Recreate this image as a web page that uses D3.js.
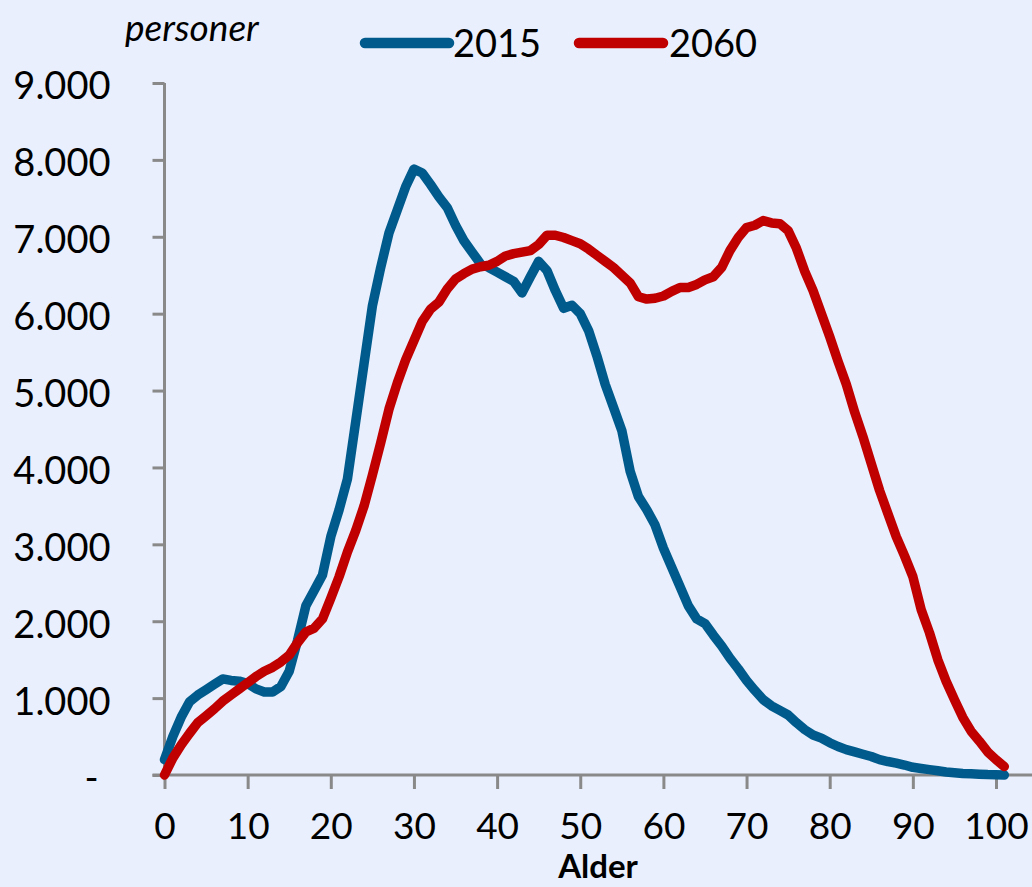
<!DOCTYPE html>
<html>
<head>
<meta charset="utf-8">
<script src="https://cdn.jsdelivr.net/npm/d3@7"></script>
<style>
  html, body { margin: 0; padding: 0; background: #E9EFFC; }
  svg { display: block; }
  text { font-family: Lato, "Liberation Sans", Arial, sans-serif; fill: #000; }
</style>
</head>
<body>
<svg id="chart" width="1032" height="887"></svg>
<script>
// ---- data ----
const ages = d3.range(0, 102);
const series2015 = [
  200, 500, 750, 950, 1040, 1110, 1180, 1250, 1230, 1220,
  1190, 1120, 1080, 1080, 1150, 1350, 1750, 2200, 2400, 2600,
  3100, 3450, 3850, 4600, 5350, 6100, 6600, 7050, 7350, 7650,
  7880, 7830, 7680, 7520, 7380, 7150, 6950, 6800, 6650, 6600,
  6540, 6480, 6420, 6270, 6480, 6680, 6560, 6300, 6070, 6110,
  6000, 5780, 5450, 5080, 4780, 4480, 3950, 3620, 3450, 3250,
  2950, 2700, 2450, 2200, 2030, 1970, 1820, 1680, 1520, 1380,
  1230, 1100, 980, 900, 840, 780, 680, 590, 520, 480,
  420, 370, 330, 300, 270, 240, 200, 175, 155, 130,
  100, 85, 70, 55, 40, 30, 20, 15, 10, 5,
  3, 0
];
const series2060 = [
  0, 220, 390, 540, 680, 770, 860, 960, 1040, 1120,
  1200, 1280, 1350, 1400, 1470, 1560, 1720, 1860, 1910, 2030,
  2300, 2580, 2900, 3180, 3500, 3900, 4320, 4760, 5100, 5400,
  5650, 5900, 6060, 6150, 6320, 6450, 6520, 6580, 6610, 6630,
  6680, 6750, 6780, 6800, 6820, 6900, 7020, 7020, 6990, 6950,
  6910, 6840, 6760, 6680, 6600, 6500, 6400, 6220, 6190, 6200,
  6230, 6290, 6340, 6340, 6380, 6440, 6480, 6600, 6820, 6990,
  7120, 7150, 7210, 7180, 7170, 7080, 6850, 6550, 6300, 6000,
  5700, 5380, 5080, 4720, 4400, 4050, 3700, 3400, 3100, 2850,
  2580, 2150, 1850, 1500, 1220, 980, 750, 570, 440, 300,
  200, 110
];
const seriesNames = ["2015", "2060"];
const seriesColors = ["#005B8C", "#C00000"];
const xTicks = [0, 10, 20, 30, 40, 50, 60, 70, 80, 90, 100];
const yTicks = [0, 1000, 2000, 3000, 4000, 5000, 6000, 7000, 8000, 9000];
const yTickLabels = ["-", "1.000", "2.000", "3.000", "4.000", "5.000", "6.000", "7.000", "8.000", "9.000"];
const yTitle = "personer";
const xTitle = "Alder";

// ---- layout ----
const svg = d3.select("#chart");
const W = 1032, H = 887;
svg.append("rect").attr("width", W).attr("height", H).attr("fill", "#E9EFFC");

const x = d3.scaleLinear().domain([0, 100]).range([164.5, 996]);
const y = d3.scaleLinear().domain([0, 9000]).range([775, 83]);
const axisColor = "#898989";

// y axis
const yAxis = svg.append("g").attr("transform", `translate(${x(0)},0)`)
  .call(d3.axisLeft(y).tickValues(yTicks).tickSize(12).tickFormat((d, i) => yTickLabels[i]));
yAxis.select(".domain").attr("stroke", axisColor).attr("stroke-width", 3)
  .attr("d", `M0,${y(9000)}V${y(0)}`);
yAxis.selectAll(".tick line").attr("stroke", axisColor).attr("stroke-width", 3);
yAxis.selectAll(".tick text")
  .attr("x", (d) => d === 0 ? -66 : -54)
  .attr("dy", "0.42em")
  .style("font-size", "38px")
  .style("font-family", 'Lato, "Liberation Sans", Arial, sans-serif')
  .attr("fill", "#000");

// x axis
const xAxis = svg.append("g").attr("transform", `translate(0,${y(0)})`)
  .call(d3.axisBottom(x).tickValues(xTicks).tickSize(14).tickFormat(d3.format("d")));
xAxis.select(".domain").attr("stroke", axisColor).attr("stroke-width", 3)
  .attr("d", `M${x(0) - 12},0H${W}`);
xAxis.selectAll(".tick line").attr("stroke", axisColor).attr("stroke-width", 3);
xAxis.selectAll(".tick text")
  .attr("y", 0).attr("dy", "1.74em")
  .style("font-size", "37px")
  .style("font-family", 'Lato, "Liberation Sans", Arial, sans-serif')
  .attr("fill", "#000");

// titles
svg.append("text").attr("x", 598).attr("y", 878).attr("text-anchor", "middle")
  .style("font-size", "33px").style("font-weight", "bold").text(xTitle);
svg.append("text").attr("x", 125).attr("y", 41)
  .style("font-size", "37px").style("font-style", "italic").text(yTitle);

// lines
const line = d3.line().x((d, i) => x(ages[i])).y(d => y(d));
[series2015, series2060].forEach((s, k) => {
  svg.append("path").datum(s)
    .attr("d", line)
    .attr("fill", "none")
    .attr("stroke", seriesColors[k])
    .attr("stroke-width", 9.5)
    .attr("stroke-linejoin", "round")
    .attr("stroke-linecap", "round");
});

// legend
const legendPos = [{lx1: 365, lx2: 449, tx: 453}, {lx1: 579, lx2: 663, tx: 669}];
seriesNames.forEach((name, k) => {
  const g = svg.append("g");
  g.append("line")
    .attr("x1", legendPos[k].lx1).attr("x2", legendPos[k].lx2)
    .attr("y1", 43).attr("y2", 43)
    .attr("stroke", seriesColors[k]).attr("stroke-width", 10.5)
    .attr("stroke-linecap", "round");
  g.append("text").attr("x", legendPos[k].tx).attr("y", 57)
    .style("font-size", "38px").text(name);
});
</script>
</body>
</html>
